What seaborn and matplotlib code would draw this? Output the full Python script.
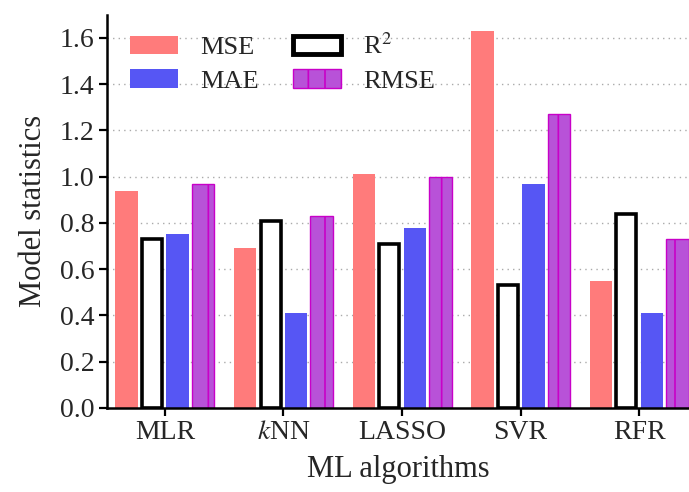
import numpy as np
import pandas as pd
import matplotlib.pyplot as plt
import seaborn as sns
from matplotlib.patches import Patch

# Values
algorithms = ['MLR', '$k$NN', 'LASSO', 'SVR', 'RFR']
metrics = ['MSE', 'R²', 'MAE', 'RMSE']
mse = [0.94, 0.69, 1.01, 1.63, 0.55]
r2 = [0.73, 0.81, 0.71, 0.53, 0.84]
mae = [0.75, 0.41, 0.78, 0.97, 0.41]
rmse = [0.97, 0.83, 1.00, 1.27, 0.73]

df = pd.DataFrame({
    'Algorithm': algorithms * 4,
    'Metric': np.repeat(metrics, len(algorithms)),
    'Value': mse + r2 + mae + rmse,
})

sns.set_style('ticks')
plt.rcParams['font.family'] = ['Liberation Serif', 'DejaVu Serif']
plt.rcParams['mathtext.fontset'] = 'stix'
plt.rcParams['hatch.linewidth'] = 1.2

colors = {'MSE': '#ff7b7b', 'R²': '#ffffff', 'MAE': '#5656f4', 'RMSE': '#b852d8'}

fig = plt.figure(figsize=(6.89, 4.92), dpi=100)
ax = fig.add_axes([0.155, 0.171, 0.845, 0.799])

sns.barplot(data=df, x='Algorithm', y='Value', hue='Metric', hue_order=metrics,
            palette=colors, saturation=1, width=0.86, gap=0.12, legend=False, ax=ax,
            edgecolor='none', linewidth=0)

# style each series
for metric, cont in zip(metrics, ax.containers):
    for p in cont.patches:
        if metric == 'R²':
            p.set_edgecolor('black')
            p.set_linewidth(2.6)
            d = 0.02
            p.set_x(p.get_x() + d / 2)
            p.set_width(p.get_width() - d)
        elif metric == 'RMSE':
            p.set_edgecolor('#c800c8')
            p.set_linewidth(1.0)
            p.set_hatch('|')

ax.set_ylim(0, 1.7)
ax.set_xlim(-0.49, 4.42)
ax.set_yticks(np.arange(0, 1.61, 0.2))
ax.set_yticklabels([f'{v:.1f}' for v in np.arange(0, 1.61, 0.2)])
for yv in np.arange(0.2, 1.61, 0.2):
    ax.axhline(yv, color='#aaaaaa', linestyle=(0, (1, 3)), linewidth=1.0, zorder=0)
ax.set_axisbelow(True)

ax.set_xlabel('ML algorithms', fontsize=22, labelpad=7)
ax.set_ylabel('Model statistics', fontsize=22, labelpad=8)
ax.tick_params(axis='both', labelsize=20, width=1.6, length=6, color='black', pad=3)
for s in ['left', 'bottom']:
    ax.spines[s].set_linewidth(1.8)
    ax.spines[s].set_color('black')
sns.despine(ax=ax)

handles = [
    Patch(facecolor=colors['MSE'], edgecolor='none', label='MSE'),
    Patch(facecolor=colors['MAE'], edgecolor='none', label='MAE'),
    Patch(facecolor='white', edgecolor='black', linewidth=3.5, label='R$^2$'),
    Patch(facecolor=colors['RMSE'], edgecolor='#c800c8', hatch='|', label='RMSE'),
]
ax.legend(handles=handles, ncol=2, frameon=False, fontsize=19,
          loc='upper left', bbox_to_anchor=(0.022, 0.98), borderaxespad=0,
          handlelength=1.8, handleheight=0.68, columnspacing=1.3,
          labelspacing=0.4, handletextpad=0.85)

fig.savefig('out.png', dpi=100)
